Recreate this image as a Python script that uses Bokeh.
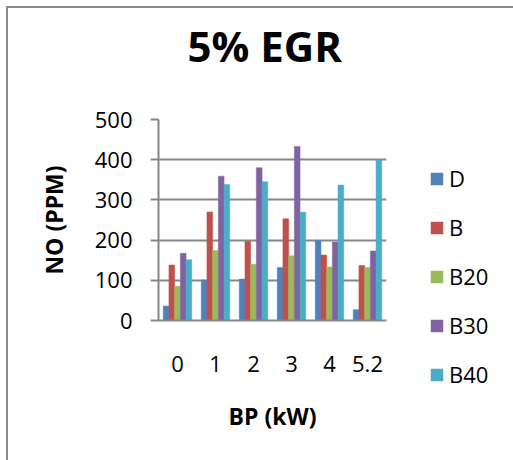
from bokeh.plotting import figure
from bokeh.models import (FactorRange, Range1d, Legend, LegendItem, FixedTicker,
                          ColumnDataSource, Title)
from bokeh.transform import dodge
from bokeh.embed import file_html
from bokeh.resources import INLINE

categories = ["0", "1", "2", "3", "4", "5.2"]
series = ["D", "B", "B20", "B30", "B40"]
D = [36, 101, 103, 132, 199, 27]
B = [138, 270, 197, 253, 163, 137]
B20 = [85, 174, 140, 161, 133, 132]
B30 = [167, 359, 380, 433, 195, 173]
B40 = [151, 338, 345, 269, 337, 400]
colors = ["#4F81BD", "#C0504D", "#9BBB59", "#8064A2", "#4BACC6"]
y_ticks = [0, 100, 200, 300, 400, 500]

source = ColumnDataSource(dict(cat=categories, D=D, B=B, B20=B20, B30=B30, B40=B40))

FONT = "Open Sans"
GRAY = "#868686"

p = figure(x_range=FactorRange(*categories, range_padding=0), y_range=Range1d(0, 500),
           frame_width=228, frame_height=201, output_backend="svg", toolbar_location=None,
           title="5% EGR",
           min_border_left=150, min_border_right=127, min_border_top=111, min_border_bottom=140)
p.styles = {"margin-left": "6px", "margin-top": "6px",
            "border-left": "2px solid #8a8a8a", "border-top": "2px solid #8a8a8a"}
p.outline_line_color = None
p.background_fill_color = "white"
p.border_fill_color = "white"

p.title.text_font = FONT
p.title.text_font_style = "bold"
p.title.text_font_size = "42px"
p.title.text_color = "black"
p.title.align = "left"
p.title.offset = 29
p.title.standoff = 0

# spacer between the title and the frame, pushing the title upwards
spacer = Title(text=" ", text_font_size="2px", standoff=42)
p.add_layout(spacer, "above")

bw = 0.15
offsets = [-0.3, -0.15, 0.0, 0.15, 0.3]
items = []
for s, c, off in zip(series, colors, offsets):
    r = p.vbar(x=dodge("cat", off, range=p.x_range), top=s, width=bw, source=source,
               fill_color=c, line_color=c, line_width=0.5)
    items.append(LegendItem(label=s, renderers=[r]))

p.xgrid.grid_line_color = None
p.ygrid.grid_line_color = GRAY
p.ygrid.grid_line_width = 2
p.yaxis.ticker = FixedTicker(ticks=y_ticks)
for ax in (p.xaxis[0], p.yaxis[0]):
    ax.axis_line_color = GRAY
    ax.axis_line_width = 2
    ax.major_label_text_font = FONT
    ax.major_label_text_font_size = "22px"
    ax.major_label_text_color = "black"
    ax.minor_tick_line_color = None
    ax.axis_label_text_font = FONT
    ax.axis_label_text_font_style = "bold"
    ax.axis_label_text_font_size = "23px"
    ax.axis_label_text_color = "black"
p.yaxis.axis_label = "NO (PPM)"
p.xaxis.axis_label = "BP (kW)"
p.yaxis.major_tick_line_color = GRAY
p.yaxis.major_tick_line_width = 2
p.yaxis.major_tick_out = 8
p.yaxis.major_tick_in = 0
p.yaxis.major_label_standoff = 18
p.yaxis.axis_label_standoff = 22
p.xaxis.major_tick_line_color = None
p.xaxis.major_tick_out = 0
p.xaxis.major_tick_in = 0
p.xaxis.major_label_standoff = 35
p.xaxis.axis_label_standoff = 25

legend = Legend(items=items, location=(43, -69), orientation="vertical",
                padding=0, margin=0, border_line_color=None, background_fill_alpha=0,
                glyph_width=15, glyph_height=15, label_height=30, spacing=19,
                label_standoff=5, label_text_font=FONT, label_text_font_size="22px",
                label_text_color="black")
p.add_layout(legend, "right")

open("out.html", "w").write(file_html(p, INLINE))
